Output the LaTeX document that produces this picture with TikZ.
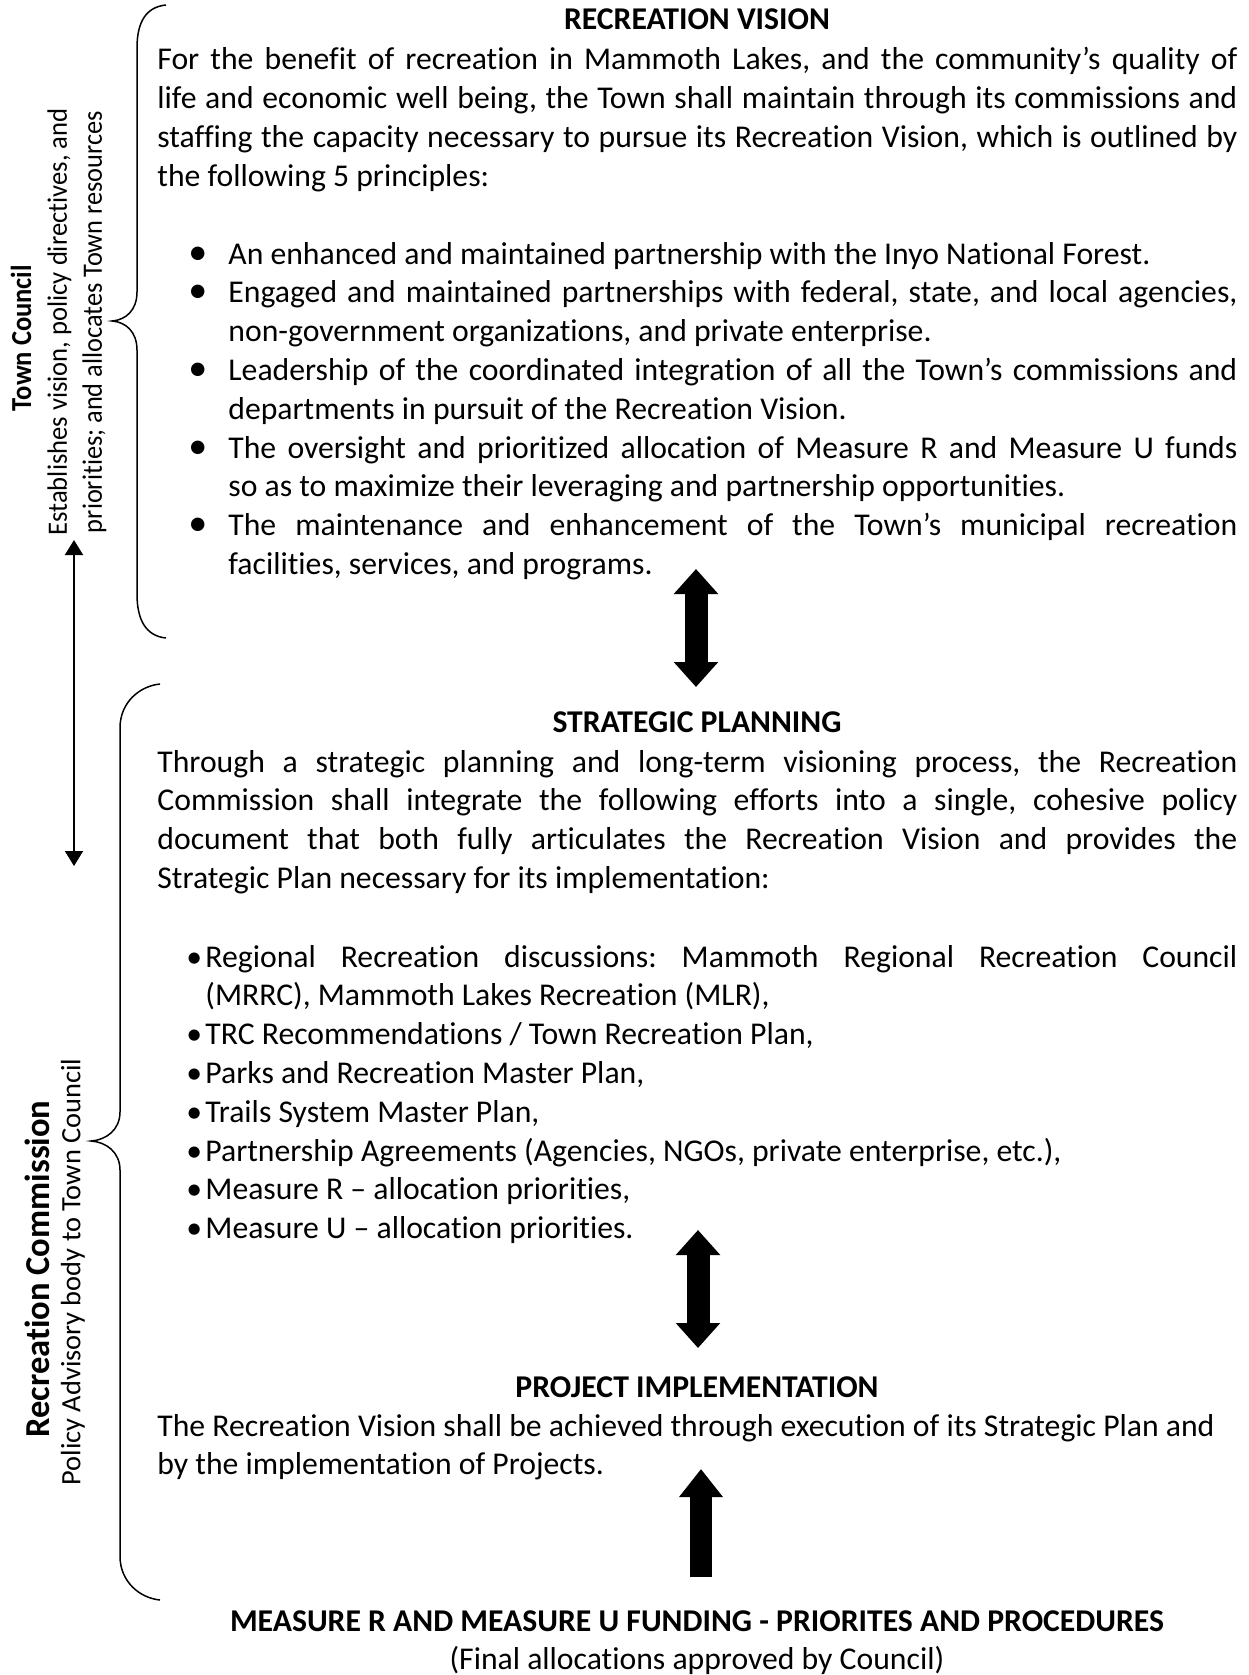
\documentclass[tikz,border=0pt]{standalone}
\usepackage{graphicx}
\usepackage{fontspec}
\setmainfont{Carlito}[Ligatures={NoCommon}]
\usetikzlibrary{arrows.meta}

\tolerance=9999
\hbadness=10000
\hyphenpenalty=10000
\exhyphenpenalty=10000
\frenchspacing

\newcommand{\squeeze}[2]{\resizebox{#1}{\height}{#2}}
\newcommand{\bulletitem}[3][1]{\hangindent=#2\hangafter=1\noindent\makebox[#2][l]{\scalebox{#1}{\textbullet}}#3\par}

\begin{document}
\begin{tikzpicture}[
    x=0.5pt, y=-0.5pt,
    font=\fontsize{15.85}{19.4}\selectfont,
    heading/.style={
        anchor=base,
        inner sep=0pt,
        font=\fontsize{15.85}{19.4}\selectfont\bfseries
    },
    para/.style={
        anchor=base west,
        inner sep=0pt,
        text width=540pt,
        align=justify
    },
    bulletlist/.style={
        anchor=base west,
        inner sep=0pt,
        align=justify
    },
    sidename/.style={
        rotate=90,
        inner sep=0pt,
        font=\fontsize{14.5}{17.5}\selectfont\bfseries
    },
    sidenote/.style={
        rotate=90,
        inner sep=0pt,
        align=center,
        font=\fontsize{14}{17.5}\selectfont
    },
    brace/.style={line width=0.75pt},
    linkarrow/.style={
        line width=0.9pt,
        {Triangle[length=7.5pt,width=9pt]}-{Triangle[length=7.5pt,width=9pt]}
    },
    twoway/.style={
        line width=11.5pt,
        {Triangle[length=12.5pt,width=21.5pt]}-{Triangle[length=12.5pt,width=21.5pt]}
    },
    oneway/.style={
        line width=11pt,
        -{Triangle[length=14pt,width=21pt]}
    }
]

\useasboundingbox (0,0) rectangle (1248,1675);

% Recreation vision
\node[heading] (visiontitle) at (697,30) {RECREATION VISION};

\node[para] (visiontext) at (157,70) {For the benefit of recreation in Mammoth Lakes, and the community’s quality of\linebreak
life and economic well being, the Town shall maintain through its commissions and\linebreak
staffing the capacity necessary to pursue its Recreation Vision, which is outlined by\linebreak
the following 5 principles:};

\node[bulletlist, text width=524.5pt] (visionlist) at (188,264) {%
\bulletitem[1.2]{20pt}{An enhanced and maintained partnership with the Inyo National Forest.}
\bulletitem[1.2]{20pt}{Engaged and maintained partnerships with federal, state, and local agencies,\linebreak
non-government organizations, and private enterprise.}
\bulletitem[1.2]{20pt}{Leadership of the coordinated integration of all the Town’s commissions and\linebreak
departments in pursuit of the Recreation Vision.}
\bulletitem[1.2]{20pt}{The oversight and prioritized allocation of Measure R and Measure U funds\linebreak
so as to maximize their leveraging and partnership opportunities.}
\bulletitem[1.2]{20pt}{The maintenance and enhancement of the Town’s municipal recreation\linebreak
facilities, services, and programs.}};

% Strategic planning
\node[heading] (plantitle) at (697,732) {STRATEGIC PLANNING};

\node[para] (plantext) at (157,772) {Through a strategic planning and long-term visioning process, the Recreation\linebreak
Commission shall integrate the following efforts into a single, cohesive policy\linebreak
document that both fully articulates the Recreation Vision and provides the\linebreak
Strategic Plan necessary for its implementation:};

\node[bulletlist, text width=525.5pt] (planlist) at (186,967) {%
\bulletitem{9.5pt}{Regional Recreation discussions: Mammoth Regional Recreation Council\linebreak
(MRRC), Mammoth Lakes Recreation (MLR),}
\bulletitem{9.5pt}{TRC Recommendations / Town Recreation Plan,}
\bulletitem{9.5pt}{Parks and Recreation Master Plan,}
\bulletitem{9.5pt}{Trails System Master Plan,}
\bulletitem{9.5pt}{Partnership Agreements (Agencies, NGOs, private enterprise, etc.),}
\bulletitem{9.5pt}{Measure R – allocation priorities,}
\bulletitem{9.5pt}{Measure U – allocation priorities.}};

% Project implementation
\node[heading] (projtitle) at (697,1397) {PROJECT IMPLEMENTATION};

\node[para] (projtext) at (157,1436) {The Recreation Vision shall be achieved through execution of its Strategic Plan and\newline
by the implementation of Projects.};

% Funding
\node[heading] (fundtitle) at (697,1631) {MEASURE R AND MEASURE U FUNDING - PRIORITES AND PROCEDURES};
\node[anchor=base, inner sep=0pt] (fundnote) at (697,1669) {(Final allocations approved by Council)};

% Side labels
\node[sidename] (tcname) at (21,338) {\squeeze{73pt}{Town Council}};
\node[sidenote] (tcnote) at (77,322) {\squeeze{213.5pt}{Establishes vision, policy directives, and}\\
\squeeze{211pt}{priorities; and allocates Town resources}};

\node[sidename, font=\fontsize{17.5}{20}\selectfont\bfseries] (rcname) at (37,1269) {\squeeze{168.5pt}{Recreation Commission}};
\node[sidenote] (rcnote) at (73,1272) {\squeeze{213.5pt}{Policy Advisory body to Town Council}};

% Braces
\draw[brace] (166,5) .. controls (146,7) and (137,22) .. (137,48) -- (137,292)
    .. controls (137,310) and (126,320) .. (112,321)
    .. controls (126,322) and (137,332) .. (137,350) -- (137,594)
    .. controls (137,620) and (146,636) .. (166,638);

\draw[brace] (160,684) .. controls (140,686) and (120,702) .. (120,728) -- (120,1112)
    .. controls (120,1130) and (106,1140) .. (91,1141)
    .. controls (106,1142) and (120,1152) .. (120,1170) -- (120,1556)
    .. controls (120,1582) and (140,1598) .. (160,1600);

% Arrows
\coordinate (tclink) at (74,540);
\coordinate (rclink) at (74,866);
\draw[linkarrow] (tclink) -- (rclink);

\coordinate (visionend) at (696,569);
\coordinate (planstart) at (696,687);
\draw[twoway] (visionend) -- (planstart);

\coordinate (planend) at (698,1230);
\coordinate (projstart) at (698,1348);
\draw[twoway] (planend) -- (projstart);

\coordinate (fundtop) at (701,1577);
\coordinate (projend) at (701,1469);
\draw[oneway] (fundtop) -- (projend);

\end{tikzpicture}
\end{document}
